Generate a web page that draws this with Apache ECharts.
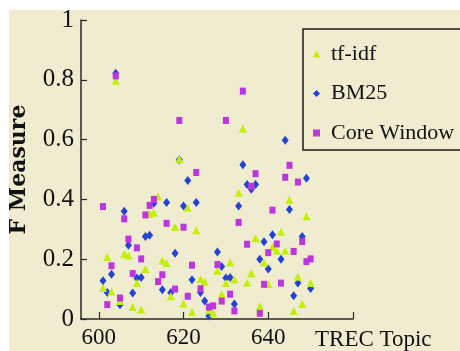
<!DOCTYPE html>
<html>
<head>
<meta charset="utf-8">
<style>
  html, body { margin: 0; padding: 0; background: #ffffff; }
  #chart { width: 460px; height: 351px; }
</style>
<script src="https://cdn.jsdelivr.net/npm/echarts@6/dist/echarts.min.js"></script>
</head>
<body>
<div id="chart"></div>
<script>
// TREC topics on the x axis
const topics = [601, 602, 603, 604, 605, 606, 607, 608, 609, 610,
                611, 612, 613, 614, 615, 616, 617, 618, 619, 620,
                621, 622, 623, 624, 625, 626, 627, 628, 629, 630,
                631, 632, 633, 634, 635, 636, 637, 638, 639, 640,
                641, 642, 643, 644, 645, 646, 647, 648, 649, 650];

// F measure per topic (null = no visible point)
const tfidf = [0.104, 0.207, 0.092, 0.797, 0.060, 0.217, 0.212, 0.040, 0.120, 0.032,
               0.167, 0.352, 0.356, 0.410, 0.196, 0.187, 0.076, 0.308, 0.535, 0.052,
               0.372, 0.023, 0.297, 0.133, 0.125, 0.029, 0.020, 0.161, 0.083, 0.120,
               0.190, 0.133, 0.422, 0.637, 0.121, 0.153, 0.270, 0.043, 0.189, 0.117,
               0.241, 0.228, 0.292, 0.228, 0.399, 0.027, 0.141, 0.050, 0.344, 0.120];

const bm25 = [0.128, 0.089, 0.150, 0.822, 0.048, 0.360, 0.247, 0.087, 0.137, 0.139,
              0.276, 0.280, 0.387, null, 0.098, 0.390, 0.089, 0.220, 0.533, 0.378,
              0.463, 0.131, 0.390, 0.089, 0.060, 0.010, null, 0.224, 0.176, 0.137,
              0.139, 0.050, 0.378, 0.516, 0.450, 0.434, 0.450, 0.200, 0.258, 0.167,
              0.282, null, 0.200, 0.598, 0.366, 0.078, 0.120, 0.276, 0.471, 0.102];

const coreWindow = [0.376, 0.048, 0.178, 0.813, 0.070, 0.335, 0.267, 0.152, 0.238, 0.201,
                    0.348, 0.380, 0.400, 0.125, 0.148, 0.320, null, 0.100, 0.664, 0.307,
                    0.076, 0.180, 0.490, 0.101, null, 0.040, 0.044, 0.182, 0.060, 0.664,
                    0.083, 0.027, 0.323, 0.762, 0.250, 0.444, 0.486, 0.019, 0.116, 0.222,
                    0.364, 0.251, 0.120, 0.474, 0.514, 0.226, 0.458, 0.259, 0.192, 0.201];

const xTicks = [600, 620, 640, 660];
const xLabels = [600, 620, 640];
const yTicks = [0, 0.2, 0.4, 0.6, 0.8, 1];

function toPoints(values) {
  const pts = [];
  topics.forEach((t, i) => { if (values[i] !== null) pts.push([t, values[i]]); });
  return pts;
}

const serif = '"Liberation Serif", "DejaVu Serif", serif';
const axisColor = '#2a2a2a';

const chart = echarts.init(document.getElementById('chart'), null, { renderer: 'canvas' });

chart.setOption({
  backgroundColor: '#ffffff',
  animation: false,
  graphic: [{
    type: 'rect',
    z: -100,
    silent: true,
    shape: { x: 9, y: 10, width: 451, height: 341 },
    style: { fill: '#efecd0' }
  }],
  grid: { left: 77, top: 20, right: 107, bottom: 31, containLabel: false },
  legend: {
    data: ['tf-idf', 'BM25', 'Core Window'],
    orient: 'vertical',
    left: 303,
    top: 29,
    padding: [13, 12, 5, 10],
    itemGap: 15.5,
    itemWidth: 7,
    itemHeight: 7,
    borderColor: '#1a1a1a',
    borderWidth: 1.5,
    borderRadius: 0,
    textStyle: {
      fontFamily: serif,
      fontSize: 22,
      lineHeight: 24,
      color: '#111',
      padding: [0, 0, 0, 6]
    }
  },
  xAxis: {
    type: 'value',
    min: 595.8,
    max: 660,
    name: 'TREC Topic',
    nameLocation: 'end',
    nameGap: -38,
    nameTextStyle: {
      fontFamily: serif,
      fontSize: 23,
      color: '#111',
      align: 'left',
      verticalAlign: 'top',
      padding: [9, 0, 0, 0]
    },
    splitLine: { show: false },
    axisLine: { show: true, onZero: false, lineStyle: { color: axisColor, width: 1.5 } },
    axisTick: { show: true, inside: true, length: 7, customValues: xTicks, lineStyle: { color: axisColor, width: 1.2 } },
    axisLabel: {
      customValues: xLabels,
      margin: 7,
      fontFamily: serif,
      fontSize: 23,
      color: '#111'
    }
  },
  yAxis: {
    type: 'value',
    min: 0,
    max: 1,
    name: 'F Measure',
    nameLocation: 'middle',
    nameGap: 51,
    nameTextStyle: {
      fontFamily: '"DejaVu Serif", "Liberation Serif", serif',
      fontWeight: 'bold',
      fontSize: 22,
      color: '#111'
    },
    splitLine: { show: false },
    axisLine: { show: true, lineStyle: { color: axisColor, width: 1.5 } },
    axisTick: { show: true, inside: true, length: 6, customValues: yTicks, lineStyle: { color: axisColor, width: 1.2 } },
    axisLabel: {
      customValues: yTicks,
      margin: 7,
      fontFamily: serif,
      fontSize: 25,
      color: '#111',
      formatter: v => String(Math.round(v * 10) / 10)
    }
  },
  series: [
    {
      name: 'BM25',
      type: 'scatter',
      symbol: 'diamond',
      symbolSize: [7, 9],
      itemStyle: { color: '#2343d2', opacity: 1 },
      data: toPoints(bm25),
      z: 2
    },
    {
      name: 'tf-idf',
      type: 'scatter',
      symbol: 'triangle',
      symbolSize: [8, 8],
      itemStyle: { color: '#c2f000', opacity: 1 },
      data: toPoints(tfidf),
      z: 3
    },
    {
      name: 'Core Window',
      type: 'scatter',
      symbol: 'rect',
      symbolSize: [6, 7],
      itemStyle: { color: '#bc35de', opacity: 1 },
      data: toPoints(coreWindow),
      z: 4
    }
  ]
});
</script>
</body>
</html>
